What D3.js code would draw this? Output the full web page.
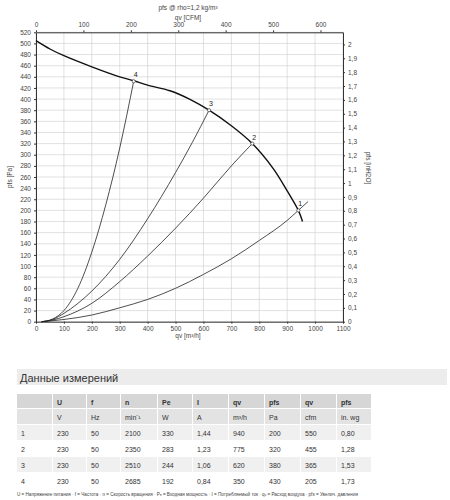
<!DOCTYPE html><html><head><meta charset="utf-8"><script src="https://cdn.jsdelivr.net/npm/d3@7"></script>
<style>body{margin:0;background:#fff}text{font-family:Arial,"Liberation Sans",sans-serif}</style></head><body><svg id="c" width="450" height="500"></svg>
<script>
const mainCurve=[[0,505],[50,490],[100,478],[200,458],[300,440],[350,433],[400,425],[480,415],[550,400],[620,380],[700,352],[775,320],[850,275],[900,235],[940,200],[955,180]];
const sys4=[[20,0],[60,5],[100,20],[150,60],[200,125],[250,210],[300,312],[350,432]];
const sys3=[[20,0],[60,4],[100,15],[200,55],[300,112],[400,185],[500,268],[560,322],[620,380]];
const sys2=[[20,0],[60,3],[100,9],[200,33],[300,72],[400,118],[500,168],[600,222],[700,280],[775,320]];
const sys1=[[20,0],[100,4],[200,12],[300,25],[400,40],[500,60],[600,85],[700,113],[800,146],[900,182],[940,200],[975,216]];
const opPoints=[["1",940,200],["2",775,320],["3",620,380],["4",350,432]];
const yTicks=d3.range(0,521,20);
const xTicks=d3.range(0,1101,100);
const cfmTicks=[0,100,200,300,400,500,600];
const inTicks=[0,0.1,0.2,0.3,0.4,0.5,0.6,0.7,0.8,0.9,1,1.1,1.2,1.3,1.4,1.5,1.6,1.7,1.8,1.9,2];
const colHeads=["U","f","n","Pe","I","qv","pfs","qv","pfs"];
const colUnits=["V","Hz","min⁻¹","W","A","m³/h","Pa","cfm","in. wg"];
const rows=[["1","230","50","2100","330","1,44","940","200","550","0,80"],["2","230","50","2350","283","1,23","775","320","455","1,28"],["3","230","50","2510","244","1,06","620","380","365","1,53"],["4","230","50","2685","192","0,84","350","430","205","1,73"]];

const svg=d3.select("#c");
const x=d3.scaleLinear().domain([0,1100]).range([36,343]);
const y=d3.scaleLinear().domain([0,520]).range([321.7,32.3]);
const xc=d3.scaleLinear().domain([0,1100*0.5886]).range([36,343]);
const yi=d3.scaleLinear().domain([0,520/249.09]).range([321.7,32.3]);
const g=svg.append("g");
g.selectAll(".gx").data(xTicks).join("line").attr("x1",d=>x(d)).attr("x2",d=>x(d)).attr("y1",32.3).attr("y2",321.7).attr("stroke","#ccc").attr("stroke-width",0.6);
g.selectAll(".gy").data(yTicks).join("line").attr("y1",d=>y(d)).attr("y2",d=>y(d)).attr("x1",36).attr("x2",343).attr("stroke","#ccc").attr("stroke-width",0.6);
function ax(gen,tr){const a=svg.append("g").attr("transform",tr).call(gen);a.selectAll("text").attr("font-size",6.5).attr("fill","#444");a.selectAll("path,line").attr("stroke","#333");return a;}
const fd=d3.format("d");
ax(d3.axisBottom(x).tickValues(xTicks).tickSize(2).tickSizeOuter(0).tickFormat(fd),"translate(0,321.7)");
ax(d3.axisLeft(y).tickValues(yTicks).tickSize(2).tickSizeOuter(0).tickFormat(fd),"translate(36,0)");
ax(d3.axisTop(xc).tickValues(cfmTicks).tickSize(2).tickSizeOuter(0).tickFormat(fd),"translate(0,32.3)");
ax(d3.axisRight(yi).tickValues(inTicks).tickSize(2).tickSizeOuter(0).tickFormat(d=>String(d).replace(".",",")),"translate(343,0)");
const line=d3.line().x(d=>x(d[0])).y(d=>y(d[1])).curve(d3.curveMonotoneX);
[sys1,sys2,sys3,sys4].forEach(s=>svg.append("path").attr("d",line(s)).attr("fill","none").attr("stroke","#222").attr("stroke-width",0.8));
svg.append("path").attr("d",d3.line().x(d=>x(d[0])).y(d=>y(d[1])).curve(d3.curveCatmullRom)(mainCurve)).attr("fill","none").attr("stroke","#111").attr("stroke-width",1.4);
svg.selectAll(".op").data(opPoints).join("circle").attr("cx",d=>x(d[1])).attr("cy",d=>y(d[2])).attr("r",1.6).attr("fill","#fff").attr("stroke","#222").attr("stroke-width",0.6);
svg.selectAll(".ol").data(opPoints).join("text").attr("x",d=>x(d[1])).attr("y",d=>y(d[2])-4).attr("font-size",7).attr("fill","#222").text(d=>d[0]);
svg.append("text").attr("x",188).attr("y",10).attr("text-anchor","middle").attr("font-size",6.5).attr("fill","#444").text("pfs @ rho=1,2 kg/m³");
svg.append("text").attr("x",188).attr("y",20).attr("text-anchor","middle").attr("font-size",6.5).attr("fill","#444").text("qv [CFM]");
svg.append("text").attr("x",188).attr("y",338).attr("text-anchor","middle").attr("font-size",6.5).attr("fill","#444").text("qv [m³/h]");
svg.append("text").attr("transform","translate(12,177) rotate(-90)").attr("text-anchor","middle").attr("font-size",6.5).attr("fill","#444").text("pfs [Pa]");
svg.append("text").attr("transform","translate(366,168) rotate(90)").attr("text-anchor","middle").attr("font-size",6.5).attr("fill","#444").text("pfs [inH2O]");
svg.append("rect").attr("x",17).attr("y",369).attr("width",430).attr("height",16).attr("fill","#ececec");
svg.append("text").attr("x",20).attr("y",382).attr("font-size",11).attr("fill","#333").text("Данные измерений");
const colX=[17,53,87,121,158,193,229,265,301,337,372];
const rowY=[394,409,425,441,457,473,489];
function cell(c,r,fill,txt,bold){
 svg.append("rect").attr("x",colX[c]).attr("y",rowY[r]).attr("width",colX[c+1]-colX[c]-1).attr("height",rowY[r+1]-rowY[r]-1).attr("fill",fill);
 if(txt!==null){svg.append("text").attr("x",colX[c]+4).attr("y",rowY[r]+10.5).attr("font-size",7).attr("fill","#333").attr("font-weight",bold?"bold":"normal").text(txt);}
}
cell(0,0,"#d6d6d6","");cell(0,1,"#e3e3e3","");
colHeads.forEach((h,i)=>{cell(i+1,0,"#d6d6d6",h,true);cell(i+1,1,"#e3e3e3",colUnits[i]);});
rows.forEach((r,ri)=>r.forEach((v,ci)=>cell(ci,ri+2,ri%2===0?"#f0f0f0":"#ffffff",v)));
svg.append("text").attr("x",17).attr("y",496).attr("font-size",4.6).attr("fill","#444").text("U = Напряжение питания · f = Частота · n = Скорость вращения · Pₑ = Входная мощность · I = Потребляемый ток · qᵥ = Расход воздуха · pfs = Увелич. давления");
</script></body></html>
